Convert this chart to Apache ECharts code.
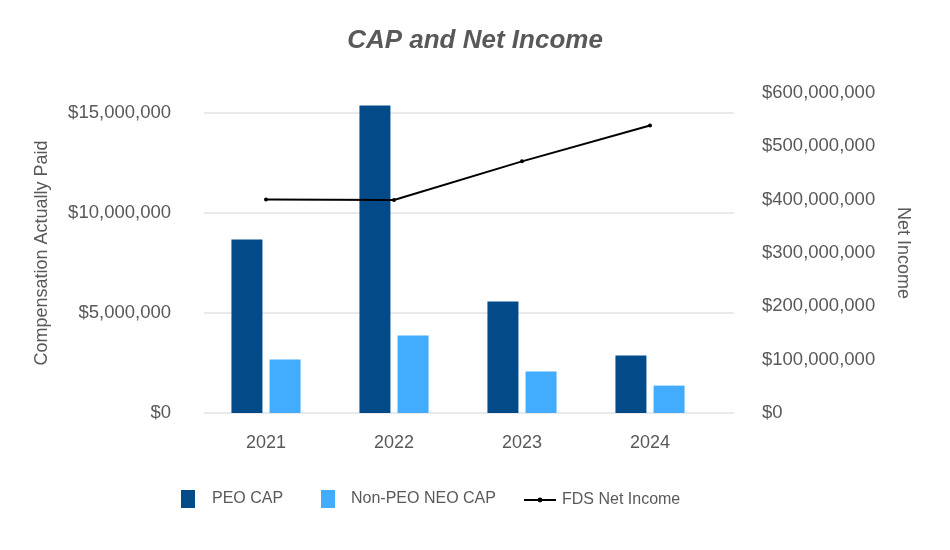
<!DOCTYPE html>
<html>
<head>
<meta charset="utf-8">
<script src="https://cdn.jsdelivr.net/npm/echarts@6/dist/echarts.min.js"></script>
<style>html,body{margin:0;padding:0;background:#fff;}#c{width:950px;height:550px;}</style>
</head>
<body>
<div id="c"></div>
<script>
const years = ['2021', '2022', '2023', '2024'];
const peoCap = [8670000, 15380000, 5580000, 2870000];
const nonPeoCap = [2670000, 3870000, 2070000, 1370000];
const netIncome = [400500000, 399400000, 471800000, 539000000];
const leftTicks = [0, 5000000, 10000000, 15000000];
const rightTicks = [0, 100000000, 200000000, 300000000, 400000000, 500000000, 600000000];

const txt = '#595959';
const font = "'Liberation Sans', Arial, sans-serif";
const money = v => '$' + Number(v).toLocaleString('en-US');
const legendText = { color: txt, fontSize: 16, fontFamily: font };

const chart = echarts.init(document.getElementById('c'));
chart.setOption({
  animation: false,
  backgroundColor: '#fff',
  title: {
    text: 'CAP and Net Income',
    left: 'center',
    top: 23,
    textStyle: { color: txt, fontSize: 26, fontWeight: 'bold', fontStyle: 'italic', fontFamily: font }
  },
  legend: [
    { data: [{ name: 'PEO CAP', icon: 'rect' }], left: 176, top: 485, itemWidth: 14, itemHeight: 18,
      textStyle: Object.assign({}, legendText, { padding: [0, 0, 0, 12] }) },
    { data: [{ name: 'Non-PEO NEO CAP', icon: 'rect' }], left: 316, top: 485, itemWidth: 14, itemHeight: 18,
      textStyle: Object.assign({}, legendText, { padding: [0, 0, 0, 11] }) },
    { data: ['FDS Net Income'], left: 518, top: 487, itemWidth: 32, itemHeight: 6,
      textStyle: Object.assign({}, legendText, { padding: [0, 0, 0, 1] }) }
  ],
  grid: [
    { left: 202, right: 236, top: 93, bottom: 137 },
    { left: 204, right: 216, top: 93, bottom: 137 }
  ],
  xAxis: [
    { type: 'category', gridIndex: 0, data: years,
      axisLine: { show: false }, axisTick: { show: false },
      axisLabel: { color: txt, fontSize: 18, fontFamily: font, margin: 21 } },
    { type: 'value', gridIndex: 1, min: 0, max: 1, show: false }
  ],
  yAxis: [
    { type: 'value', gridIndex: 0, min: 0, max: 16000000, interval: 5000000,
      name: 'Compensation Actually Paid', nameLocation: 'middle', nameGap: 151,
      nameTextStyle: { color: txt, fontSize: 18, fontFamily: font },
      axisLine: { show: false }, axisTick: { show: false },
      axisLabel: { color: txt, fontSize: 18.5, fontFamily: font, margin: 31, showMaxLabel: false,
        formatter: v => leftTicks.includes(v) ? money(v) : '' },
      splitLine: { show: false } },
    { type: 'value', gridIndex: 0, position: 'right', min: 0, max: 600000000, interval: 100000000,
      name: 'Net Income', nameLocation: 'middle', nameGap: 180, nameRotate: -90,
      nameTextStyle: { color: txt, fontSize: 18, fontFamily: font },
      axisLine: { show: false }, axisTick: { show: false },
      axisLabel: { color: txt, fontSize: 18.5, fontFamily: font, margin: 48, align: 'left',
        formatter: v => rightTicks.includes(v) ? money(v) : '' },
      splitLine: { show: false } },
    { type: 'value', gridIndex: 1, min: 0, max: 16000000, interval: 5000000,
      axisLine: { show: false }, axisTick: { show: false }, axisLabel: { show: false },
      splitLine: { show: true, lineStyle: { width: 1.5, color: ['#e3e3e3', '#e3e3e3', '#e3e3e3', '#e3e3e3', 'rgba(0,0,0,0)'] } } }
  ],
  series: [
    { name: 'PEO CAP', type: 'bar', xAxisIndex: 0, yAxisIndex: 0, data: peoCap,
      barWidth: 31, barGap: '23%', itemStyle: { color: '#024b88' }, z: 3 },
    { name: 'Non-PEO NEO CAP', type: 'bar', xAxisIndex: 0, yAxisIndex: 0, data: nonPeoCap,
      barWidth: 31, barGap: '23%', itemStyle: { color: '#42adff' }, z: 3 },
    { name: 'FDS Net Income', type: 'line', xAxisIndex: 0, yAxisIndex: 1, data: netIncome,
      symbol: 'circle', symbolSize: 4, itemStyle: { color: '#000' },
      lineStyle: { color: '#000', width: 2 }, z: 5 }
  ]
});
</script>
</body>
</html>
